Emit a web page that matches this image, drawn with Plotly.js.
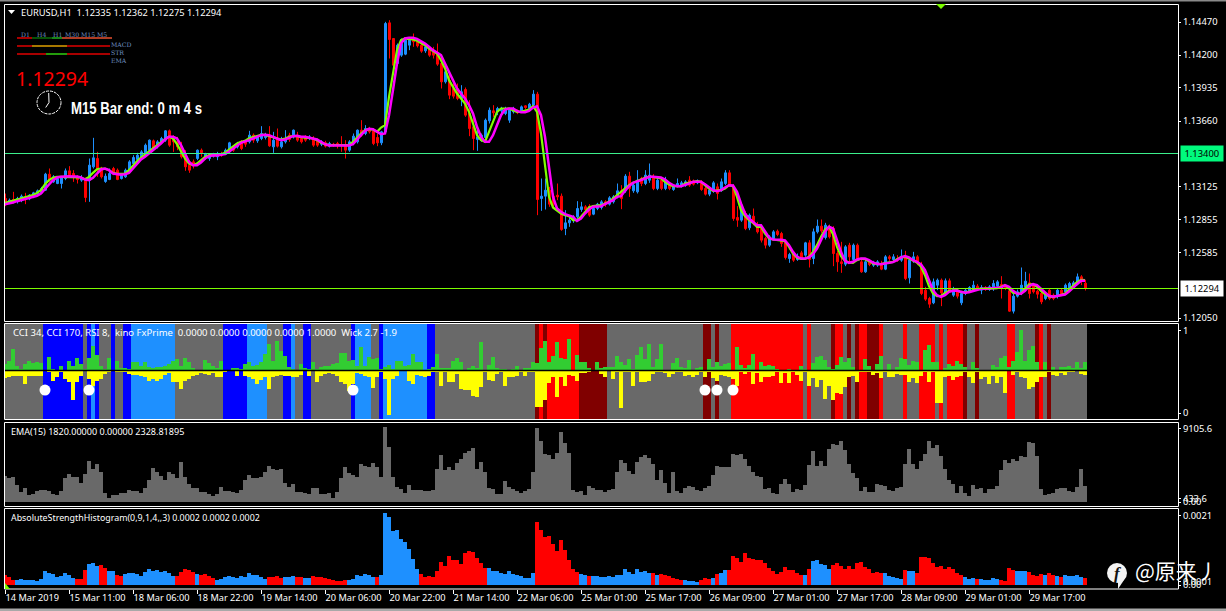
<!DOCTYPE html>
<html><head><meta charset="utf-8">
<script src="https://cdn.plot.ly/plotly-3.0.1.min.js"></script>
<style>html,body{margin:0;padding:0;background:#000}#c{width:1226px;height:611px}</style>
</head><body><div id="c"></div>
<script>
// price readings, in steps of priceStep above priceBase
const priceBase=1.12, priceStep=0.00002725;
const open=[377,364,374,368,372,382,376,382,390,394,402,450,427,422,422,437,460,452,442,432,432,432,472,497,462,428,434,467,462,437,442,457,482,494,502,514,522,550,532,547,552,580,562,547,532,507,477,487,497,522,500,497,504,502,512,510,517,532,532,547,547,547,567,550,557,560,567,532,557,532,547,567,562,567,557,562,557,557,552,540,544,534,540,542,539,537,522,542,547,582,572,587,580,560,544,577,904,857,782,807,810,837,857,847,837,820,824,817,812,782,727,732,707,707,677,704,632,592,554,552,560,610,640,637,640,632,612,637,640,640,655,647,657,690,377,384,402,384,387,384,287,304,312,322,344,352,354,330,347,350,367,360,367,382,400,400,444,400,397,437,422,432,442,407,432,407,417,404,414,414,417,432,429,424,424,407,390,400,412,402,422,454,412,320,312,332,289,324,299,287,257,237,257,279,272,247,197,210,194,214,207,244,197,277,294,260,292,287,212,187,180,237,194,237,187,157,187,177,177,182,165,202,194,197,192,204,139,190,202,177,102,77,64,117,132,92,130,87,97,64,92,100,102,114,102,110,104,107,114,119,112,100,39,84,92,112,124,119,99,92,77,102,87,84,102,97,107,112,122,142,123];
const close=[360,372,366,377,384,374,387,394,400,407,450,432,442,437,442,460,447,442,434,437,380,477,499,462,442,444,452,452,434,447,462,487,500,507,517,537,552,525,547,557,580,537,547,532,502,472,462,477,522,514,510,507,510,512,506,522,544,522,542,527,540,567,552,562,572,569,535,552,534,547,557,554,582,552,547,552,562,537,537,547,534,542,536,536,536,522,547,564,582,567,587,577,542,544,577,902,854,777,837,842,852,852,847,835,819,832,807,807,780,727,757,687,684,677,697,627,587,557,562,567,612,642,634,647,647,647,642,647,634,652,650,660,690,374,384,402,360,360,382,284,304,312,322,347,352,344,327,347,360,367,360,379,382,400,377,444,407,417,432,422,447,447,407,432,407,432,407,414,422,424,427,417,420,429,404,390,402,424,392,427,454,420,317,312,357,287,327,302,277,252,237,262,277,269,242,200,209,192,204,200,244,194,277,294,280,297,262,212,187,182,232,202,237,197,157,187,179,184,187,165,202,197,202,192,204,137,192,202,182,92,75,60,127,132,94,130,102,104,84,92,102,110,117,104,110,104,112,122,127,109,107,39,84,97,117,129,92,97,90,67,87,77,77,102,90,117,122,124,142,132,108];
const high=[392,377,397,382,389,394,390,397,404,412,454,467,447,442,444,467,474,462,447,447,439,497,559,517,472,452,467,472,467,452,467,492,507,514,522,542,554,554,552,562,582,584,567,562,547,522,492,494,524,527,514,512,514,517,517,527,547,537,547,552,552,580,572,567,594,574,594,577,587,562,582,574,584,577,564,567,567,564,557,552,550,547,544,547,564,552,552,572,584,612,597,592,587,572,580,907,912,857,842,857,859,857,872,852,847,837,832,832,842,807,777,757,722,722,717,710,672,622,592,572,617,650,657,652,652,652,647,652,644,656,657,664,702,697,437,437,412,392,422,392,342,322,327,369,367,357,360,354,364,372,372,384,387,422,417,450,457,424,462,442,462,482,450,437,437,442,424,420,437,430,432,444,434,434,432,414,407,429,422,437,462,462,420,354,362,340,332,347,307,292,262,267,282,284,277,252,214,217,212,220,247,252,287,314,314,304,299,294,220,247,237,244,242,242,197,194,194,190,192,190,207,207,210,207,224,220,197,217,207,187,112,82,137,137,137,137,137,112,104,100,107,114,130,120,117,114,117,132,132,144,117,107,92,104,170,157,152,124,104,100,92,107,92,107,107,122,127,130,152,147,133];
const low=[354,360,362,362,366,360,372,378,387,392,400,427,424,420,407,432,442,427,422,427,366,367,467,442,437,424,432,447,432,434,439,454,477,490,497,510,517,520,527,542,547,532,517,522,497,460,454,467,492,502,494,490,500,492,502,507,512,517,527,522,532,542,544,544,552,554,532,514,530,527,542,547,557,547,542,547,552,532,532,534,530,530,532,527,517,497,517,537,542,562,567,572,537,534,537,572,797,772,777,802,807,822,832,830,814,814,802,797,775,707,722,675,677,672,654,622,564,522,520,547,557,602,622,627,632,627,604,632,630,635,644,642,652,327,340,344,352,352,372,280,267,292,304,317,337,340,322,327,342,344,352,356,362,377,345,394,382,394,392,414,417,424,402,402,402,402,402,400,410,410,412,412,416,420,400,386,384,394,374,397,417,414,310,292,307,282,282,297,272,245,227,232,252,264,232,194,184,187,190,194,202,170,180,272,274,254,257,174,157,154,174,187,190,192,154,154,174,172,172,162,162,190,190,187,187,132,122,184,177,87,70,49,60,102,54,87,97,82,77,57,87,94,97,100,90,100,100,100,107,77,102,37,32,80,87,107,77,92,77,60,72,72,72,77,84,90,102,107,117,117,101];
const fastMA=[364,367,370,374,377,379,382,387,394,402,420,432,439,442,442,442,442,442,441,440,435,442,454,465,467,466,462,454,451,451,452,462,477,489,500,509,520,527,537,547,555,562,557,540,517,497,482,477,482,492,502,507,507,508,510,514,524,532,542,547,550,558,562,565,568,568,564,562,557,554,557,562,564,564,561,560,560,557,552,544,540,537,537,537,537,537,537,547,560,572,582,585,584,577,590,597,682,757,822,852,857,855,854,850,844,837,827,820,812,792,767,732,710,692,677,662,637,602,567,552,547,577,607,637,647,647,647,642,637,637,640,644,654,637,572,477,382,350,342,332,327,324,312,312,322,337,350,354,355,357,362,367,377,387,397,407,417,424,430,434,439,442,442,440,437,427,419,414,414,414,422,425,427,429,427,417,407,400,400,402,407,417,414,382,342,324,312,304,292,292,272,257,254,253,252,249,232,212,199,196,196,202,217,237,262,284,292,270,232,204,190,185,184,192,196,195,189,182,181,180,183,185,187,195,201,202,197,190,185,172,147,114,92,84,85,94,100,101,102,96,95,98,102,105,106,106,107,107,108,112,117,107,94,92,92,107,119,120,112,100,90,83,82,84,87,92,104,114,126,133,132];
const slowMA=[360,362,365,369,372,375,378,380,385,392,404,419,432,440,442,444,444,443,443,440,434,432,439,452,464,467,462,452,449,448,450,454,467,482,494,502,512,520,530,542,554,562,562,557,537,510,487,477,477,485,497,504,507,506,508,510,517,527,535,544,547,552,557,562,567,568,567,562,557,552,554,560,564,565,562,562,560,558,554,547,540,536,536,536,536,536,536,540,552,567,580,586,585,577,570,572,627,702,782,842,857,859,859,856,850,842,832,822,815,807,782,757,727,707,692,677,657,632,592,562,547,547,567,597,627,644,647,647,640,636,636,640,650,654,627,562,472,382,347,337,330,327,322,310,317,332,344,352,354,354,360,365,372,382,384,400,414,424,427,432,437,442,442,442,440,434,424,417,414,414,417,422,427,428,427,420,410,402,399,402,410,417,416,397,362,332,317,307,297,297,277,260,254,254,253,251,237,217,202,197,197,200,210,227,252,277,292,287,252,217,190,184,187,194,197,197,192,185,181,180,182,185,186,192,200,204,200,192,187,179,162,132,102,87,82,87,97,100,101,97,94,96,100,104,106,106,107,107,108,110,117,112,100,92,91,100,114,120,117,106,95,85,82,84,85,89,98,110,120,130,130];
// indicator pane: state per run of bars, and strength readings (1/246ths of the indicator scale)
const stateRuns="g10 b10 g1 b1 d1 b1 g3 b1 g2 b2 d11 g12 b6 d5 g4 b2 d1 g2 b2 g10 b1 d4 g2 b1 d11 b2 g25 m1 r1 m1 r8 m7 g24 m2 g1 m1 g3 r18 g1 r1 g5 m1 r2 g1 m1 g1 m1 r2 m3 r1 g5 r1 g3 r4 g1 r1 g1 r4 m1 g2 m1 g7 r2 g5 m1 r1 g1 m1 g9";
const cciUp=[20,30,66,15,5,20,30,22,25,22,0,40,5,2,15,0,30,15,38,20,5,37,75,48,15,5,38,0,30,8,8,5,25,25,15,25,10,8,10,12,15,20,30,35,15,38,25,8,3,0,33,22,15,8,30,3,2,8,8,5,20,25,15,18,25,50,80,30,88,60,45,12,5,0,20,8,5,25,5,12,15,15,20,22,52,52,30,33,15,70,15,40,35,38,5,10,18,5,30,30,15,18,50,25,25,3,5,10,50,8,8,8,28,38,25,2,8,15,8,85,3,18,42,8,5,5,2,5,15,0,8,8,27,22,68,88,25,45,85,38,35,95,3,48,27,25,8,3,27,8,10,10,10,45,25,18,35,5,48,70,35,80,12,35,80,2,3,22,38,12,8,33,3,8,10,3,35,12,25,15,20,22,0,70,18,8,18,50,3,27,15,18,15,5,0,0,5,3,3,15,5,3,22,42,45,33,12,5,18,42,25,38,12,0,3,35,15,3,20,45,3,20,3,12,38,35,18,30,27,3,62,78,25,25,3,8,20,15,30,20,12,0,25,8,3,0,3,18,12,38,45,12,30,55,122,30,62,75,27,3,27,3,12,3,12,12,15,8,27,8,25];
const cciDown=[22,18,15,15,15,40,15,15,15,15,0,5,32,20,5,25,35,87,35,15,0,25,45,30,25,10,3,0,3,3,5,10,12,12,15,20,32,25,30,25,12,8,35,35,55,30,25,15,12,8,10,12,8,18,18,3,0,0,15,0,15,18,25,40,28,20,55,18,15,12,15,15,20,20,12,0,15,0,35,15,10,8,10,15,35,40,60,40,8,10,15,20,52,20,3,25,133,25,15,0,0,32,40,12,15,18,15,5,5,45,5,35,35,10,55,58,58,75,80,50,5,28,32,10,5,47,20,20,15,5,15,5,5,110,110,87,38,20,78,20,45,12,15,30,8,8,5,0,0,10,18,0,25,5,113,3,5,45,3,35,35,30,10,3,3,8,18,10,3,3,15,12,18,12,3,18,5,22,30,12,15,18,25,45,3,10,3,40,8,35,20,18,15,5,38,8,38,3,12,30,3,45,22,50,28,85,45,88,66,70,50,20,15,33,3,3,3,12,8,22,3,18,20,10,12,12,35,22,38,15,5,33,3,98,98,18,15,27,18,15,3,18,38,3,25,20,40,15,38,20,68,0,12,3,20,23,55,50,35,18,20,3,12,17,8,13,5,3,0,10,12];
const cciScale=246;
const signalBars=[10,21,87,175,178,182];
const signalLevel=0.28;
// volume EMA readings, in units of volUnit
const volUnit=9105.6/223;
const volReadings=[77,72,75,52,29,41,20,24,34,37,37,34,23,20,32,71,83,75,75,56,83,122,100,113,90,26,11,20,20,28,28,37,34,32,28,41,65,101,89,77,65,89,83,71,119,75,53,41,41,29,29,23,17,23,45,33,33,29,27,35,65,80,71,73,75,90,107,98,95,98,57,44,53,29,29,27,23,41,41,23,23,27,13,29,71,105,87,80,75,113,107,105,117,105,75,223,165,75,45,38,27,50,37,36,35,33,33,35,100,140,97,104,97,118,127,145,153,160,100,121,91,43,40,23,23,62,45,38,32,27,33,40,91,221,183,143,141,129,145,209,177,145,37,29,33,21,47,42,35,35,29,35,39,89,125,118,93,85,119,133,140,130,113,67,95,57,27,89,33,27,43,47,44,35,33,42,48,80,107,104,104,104,143,141,143,127,107,89,78,75,39,43,27,23,55,68,55,29,40,35,50,112,152,107,122,107,158,173,170,182,155,113,86,71,32,44,29,29,53,50,47,35,32,41,44,113,158,115,98,122,143,182,161,170,137,98,65,53,26,47,26,17,50,38,41,26,38,38,47,95,125,116,128,122,137,134,179,176,137,38,20,23,26,38,41,41,32,29,44,98,47];
// absolute strength histogram readings, in units of ashUnit, and colour per run
const ashUnit=0.0021/216;
const ashReadings=[30,24,15,14,18,15,15,15,12,18,42,37,32,25,27,36,30,21,18,17,45,63,66,58,60,51,42,42,30,27,32,36,36,33,27,39,48,42,45,40,42,36,27,27,39,48,45,39,33,30,33,27,21,15,18,24,27,24,21,27,24,36,30,30,24,18,24,24,27,21,24,24,27,24,24,21,21,27,24,24,21,18,15,12,12,15,15,18,30,27,33,30,24,24,30,216,204,162,165,138,129,108,78,48,33,24,27,24,42,69,57,87,75,75,63,96,102,99,81,65,51,51,42,42,36,33,42,33,30,27,21,21,36,189,165,144,147,123,102,135,105,75,48,39,33,30,27,27,27,24,24,27,24,30,30,48,39,33,48,39,42,36,36,30,33,30,27,21,18,15,15,12,12,9,15,21,18,21,33,36,45,45,87,81,69,96,81,78,75,75,66,51,42,33,39,54,45,45,36,30,30,48,72,75,63,60,48,60,66,57,48,57,48,66,69,54,48,36,39,36,36,27,24,21,18,45,42,42,36,84,84,81,66,54,57,48,54,48,36,30,24,18,21,18,18,15,15,21,18,15,12,51,45,42,42,42,39,30,27,33,30,36,30,27,24,30,27,27,30,24,21];
const ashRuns="r3 b15 r3 b3 r2 b2 r2 b13 r5 b1 r4 b13 r4 b3 r2 b2 r9 b7 r1 b10 r17 b12 r11 b2 r1 b15 r1 b1 r6 b4 r3 b1 r1 b2 r19 b1 r1 b5 r13 b5 r1 b2 r12 b3 r1 b5 r4 b3 r4 b1 r2 b1 r1 b5 r1";
// axis labels
const priceTicks=[1.1447,1.142,1.13935,1.1366,1.13125,1.12855,1.12585,1.1205];
const timeTicks=["14 Mar 2019","15 Mar 11:00","18 Mar 06:00","18 Mar 22:00","19 Mar 14:00","20 Mar 06:00","20 Mar 22:00","21 Mar 14:00","22 Mar 06:00","25 Mar 01:00","25 Mar 17:00","26 Mar 09:00","27 Mar 01:00","27 Mar 17:00","28 Mar 09:00","29 Mar 01:00","29 Mar 17:00"];

// ---- helpers
const W=1173,H=585,L=5,B=589;
const xp=x=>(x-L)/W, yp=y=>(B-y)/H;
const P=a=>a.map(v=>priceBase+v*priceStep);
const runs=s=>s.split(" ").flatMap(t=>Array(+t.slice(1)).fill(t[0]));
const n=open.length, idx=Array.from({length:n},(_,i)=>i);
const COL={g:"#696969",b:"#0000ff",d:"#1e90ff",r:"#ff0000",m:"#800000"};
const FONT="'Noto Sans', sans-serif";
const noHover={hoverinfo:"skip",showlegend:false};
const MID=0.517, LOW=-0.073, TOP=1.085;

const traces=[
 {type:"candlestick",x:idx.map(i=>i+0.125),open:P(open),high:P(high),low:P(low),close:P(close),xaxis:"x",yaxis:"y",
  increasing:{line:{color:"#1e90ff",width:1},fillcolor:"#1e90ff"},decreasing:{line:{color:"#ff0000",width:1},fillcolor:"#ff0000"},whiskerwidth:0,...noHover},
 {type:"scatter",mode:"lines",x:idx,y:P(fastMA),line:{color:"#7fff00",width:2.2},xaxis:"x",yaxis:"y",...noHover},
 {type:"scatter",mode:"lines",x:idx,y:P(slowMA),line:{color:"#ff00ff",width:2.5},xaxis:"x",yaxis:"y",...noHover},
 {type:"bar",x:idx,y:idx.map(()=>TOP-LOW),base:LOW,width:1,marker:{color:runs(stateRuns).map(c=>COL[c]),line:{width:0}},xaxis:"x",yaxis:"y2",...noHover},
 {type:"bar",x:idx,y:cciUp.map(v=>v/cciScale),base:MID,width:1,marker:{color:"#32cd32",line:{width:0}},xaxis:"x",yaxis:"y2",...noHover},
 {type:"bar",x:idx,y:cciDown.map(v=>-v/cciScale),base:MID,width:1,marker:{color:"#ffff00",line:{width:0}},xaxis:"x",yaxis:"y2",...noHover},
 {type:"scatter",mode:"lines",x:[0,293.25],y:[MID,MID],line:{color:"#000",width:1.5},xaxis:"x",yaxis:"y2",...noHover},
 {type:"scatter",mode:"markers",x:signalBars,y:signalBars.map(()=>signalLevel),marker:{color:"#fff",size:11},xaxis:"x",yaxis:"y2",...noHover},
 {type:"bar",x:idx,y:volReadings.map(v=>v*volUnit),width:1,marker:{color:"#696969",line:{width:0}},xaxis:"x",yaxis:"y3",...noHover},
 {type:"bar",x:idx,y:ashReadings.map(v=>v*ashUnit),width:1,marker:{color:runs(ashRuns).map(c=>COL[c=="b"?"d":"r"]),line:{width:0}},xaxis:"x",yaxis:"y4",...noHover}
];

const tickStyle={color:"#fff",ticks:"outside",ticklen:2,tickwidth:1,tickcolor:"#fff",showgrid:false,zeroline:false,showline:false,side:"right",anchor:"x",
  tickfont:{family:FONT,size:9.4,color:"#fff"},tickmode:"array",fixedrange:true};
const rect=(x0,y0,x1,y1)=>({type:"rect",xref:"paper",yref:"paper",x0:xp(x0),x1:xp(x1),y0:yp(y0),y1:yp(y1),line:{color:"#fff",width:1},fillcolor:"rgba(0,0,0,0)",layer:"above"});
const fill=(x0,y0,x1,y1,c)=>({type:"rect",xref:"paper",yref:"paper",x0:xp(x0),x1:xp(x1),y0:yp(y0),y1:yp(y1),line:{width:0},fillcolor:c,layer:"above"});
const seg=(x0,y0,x1,y1,c,w)=>({type:"line",xref:"paper",yref:"paper",x0:xp(x0),x1:xp(x1),y0:yp(y0),y1:yp(y1),line:{color:c,width:w||1},layer:"above"});
const tri=(pts,c)=>({type:"path",xref:"paper",yref:"paper",path:"M"+pts.map(p=>xp(p[0])+" "+yp(p[1])).join(" L")+" Z",fillcolor:c,line:{width:0},layer:"above"});
const txt=(x,y,t,size,color,extra)=>Object.assign({xref:"paper",yref:"paper",x:xp(x),y:yp(y),text:t,showarrow:false,xanchor:"left",yanchor:"middle",font:{family:FONT,size:size,color:color},borderpad:0},extra||{});
const tiny=(x,y,t)=>txt(x,y,t,6.5,"#6f90c0",{font:{family:"'DejaVu Serif',serif",size:6.2,color:"#6f90c0"}});

const shapes=[
 fill(0,0,1226,1.5,"#8a8a8a"),fill(0,608.5,1226,611,"#a8a8a8"),
 rect(4.5,4.5,1178.5,321.5),rect(4.5,323.5,1178.5,419.5),rect(4.5,422.5,1178.5,506.5),rect(4.5,508.5,1178.5,589),
 seg(5,153.5,1178,153.5,"#3cf08c"),seg(5,288.5,1178,288.5,"#7cfc00"),
 seg(17,38,32,38,"#e00000",1.5),seg(32,38,52,38,"#0a6e0a",1.5),seg(52,38,62,38,"#20b020",1.5),seg(62,38,112,38,"#e85030",1.5),
 seg(17,46,32,46,"#e00000",1.5),seg(32,46,67,46,"#e0a000",1.5),seg(67,46,110,46,"#e00000",1.5),
 seg(17,54,46,54,"#e00000",1.5),seg(46,54,67,54,"#30d010",1.5),seg(67,54,110,54,"#e00000",1.5),
 {type:"circle",xref:"paper",yref:"paper",x0:xp(37),x1:xp(61),y0:yp(91),y1:yp(114),line:{color:"#fff",width:1,dash:"3px,1px"},fillcolor:"#000",layer:"above"},
 seg(49,102.5,48.7,93,"#fff"),seg(49,102.5,45.7,107.5,"#fff"),
 tri([[936,4],[946,4],[941,9]],"#7cfc00"),tri([[5,583],[5,589],[10,589]],"#7cfc00"),tri([[8,10],[15,10],[11.5,14]],"#fff"),
 {type:"circle",xref:"paper",yref:"paper",x0:xp(1107),x1:xp(1127),y0:yp(563),y1:yp(583),line:{width:0},fillcolor:"#f4f4f4",layer:"above"},
 tri([[1118,580],[1124,580],[1118,589]],"#f4f4f4")
];
const annotations=[
 txt(20,12.5,"EURUSD,H1  1.12335 1.12362 1.12275 1.12294",9.3,"#fff"),
 tiny(20,34.5,"D1"),tiny(36,34.5,"H4"),tiny(52,34.5,"H1"),tiny(64,34.5,"M30"),tiny(80,34.5,"M15"),tiny(96,34.5,"M5"),
 tiny(110,44.5,"MACD"),tiny(110,52.5,"STR"),tiny(110,60.5,"EMA"),
 txt(15,78,"1.12294",19.5,"#ff0000"),
 txt(136.5,108,"M15 Bar end: 0 m 4 s",17,"#fff",{xanchor:"center",font:{family:"'Liberation Sans',sans-serif",size:17,color:"#fff",weight:700}}),
 txt(12,332,"CCI 34, CCI 170, RSI 8,  kino FxPrime  0.0000 0.0000 0.0000 0.0000 1.0000  Wick 2.7 -1.9",9.5,"#fff"),
 txt(10,431.5,"EMA(15) 1820.00000 0.00000 2328.81895",9.05,"#fff"),
 txt(10,517.5,"AbsoluteStrengthHistogram(0,9,1,4,,3) 0.0002 0.0002 0.0002",8.85,"#fff"),
 txt(1180,153,"&nbsp;1.13400&nbsp;",9.4,"#000",{bgcolor:"#00fa7d",borderpad:1}),
 txt(1180,288,"&nbsp;1.12294&nbsp;",9.4,"#000",{bgcolor:"#fff",borderpad:1}),
 txt(1112.5,573,"f",17,"#111",{font:{family:"'Liberation Serif',serif",size:17,color:"#111",weight:700,style:"italic"}}),
 txt(1134,570,"@原来丿",21,"#fff",{font:{family:"'Noto Sans CJK SC',sans-serif",size:21,color:"#fff"}})
];

const layout={
 width:1226,height:611,margin:{l:5,r:48,t:4,b:22,pad:0},paper_bgcolor:"#000",plot_bgcolor:"#000",
 barmode:"overlay",bargap:0,showlegend:false,hovermode:false,dragmode:false,
 xaxis:{domain:[0,1],range:[0,293.25],anchor:"y4",rangeslider:{visible:false},showgrid:false,zeroline:false,showline:false,ticks:"outside",ticklen:4,tickcolor:"#fff",
   tickmode:"array",tickvals:timeTicks.map((_,i)=>i*16),ticktext:timeTicks,ticklabelposition:"outside right",tickangle:0,
   tickfont:{family:FONT,size:9.2,color:"#fff"},fixedrange:true},
 yaxis:{...tickStyle,domain:[yp(321),yp(4.5)],range:[priceBase+9.5*priceStep,priceBase+959*priceStep],tickvals:priceTicks,ticktext:priceTicks.map(v=>v.toFixed(5))},
 yaxis2:{...tickStyle,domain:[yp(419),yp(324)],range:[LOW,TOP],tickvals:[0,1],ticktext:["0","1"]},
 yaxis3:{...tickStyle,domain:[yp(506),yp(423)],range:[-488,9638],tickvals:[0,433.6,8920],ticktext:["0.00","433.6","9105.6"]},
 yaxis4:{...tickStyle,domain:[yp(589),yp(508.5)],range:[-0.000117,0.002246],tickvals:[0,0.0001,0.00204],ticktext:["0.00","0.0001","0.0021"]},
 shapes:shapes,annotations:annotations
};
Plotly.newPlot("c",traces,layout,{displayModeBar:false,staticPlot:true}).then(gd=>{
  // the reference's clock caption is a tall condensed face: squeeze the real text to its width
  gd.querySelectorAll(".annotation-text").forEach(t=>{
    if(t.textContent.startsWith("M15 Bar")){t.setAttribute("textLength","131");t.setAttribute("lengthAdjust","spacingAndGlyphs");}
  });
});
</script></body></html>
